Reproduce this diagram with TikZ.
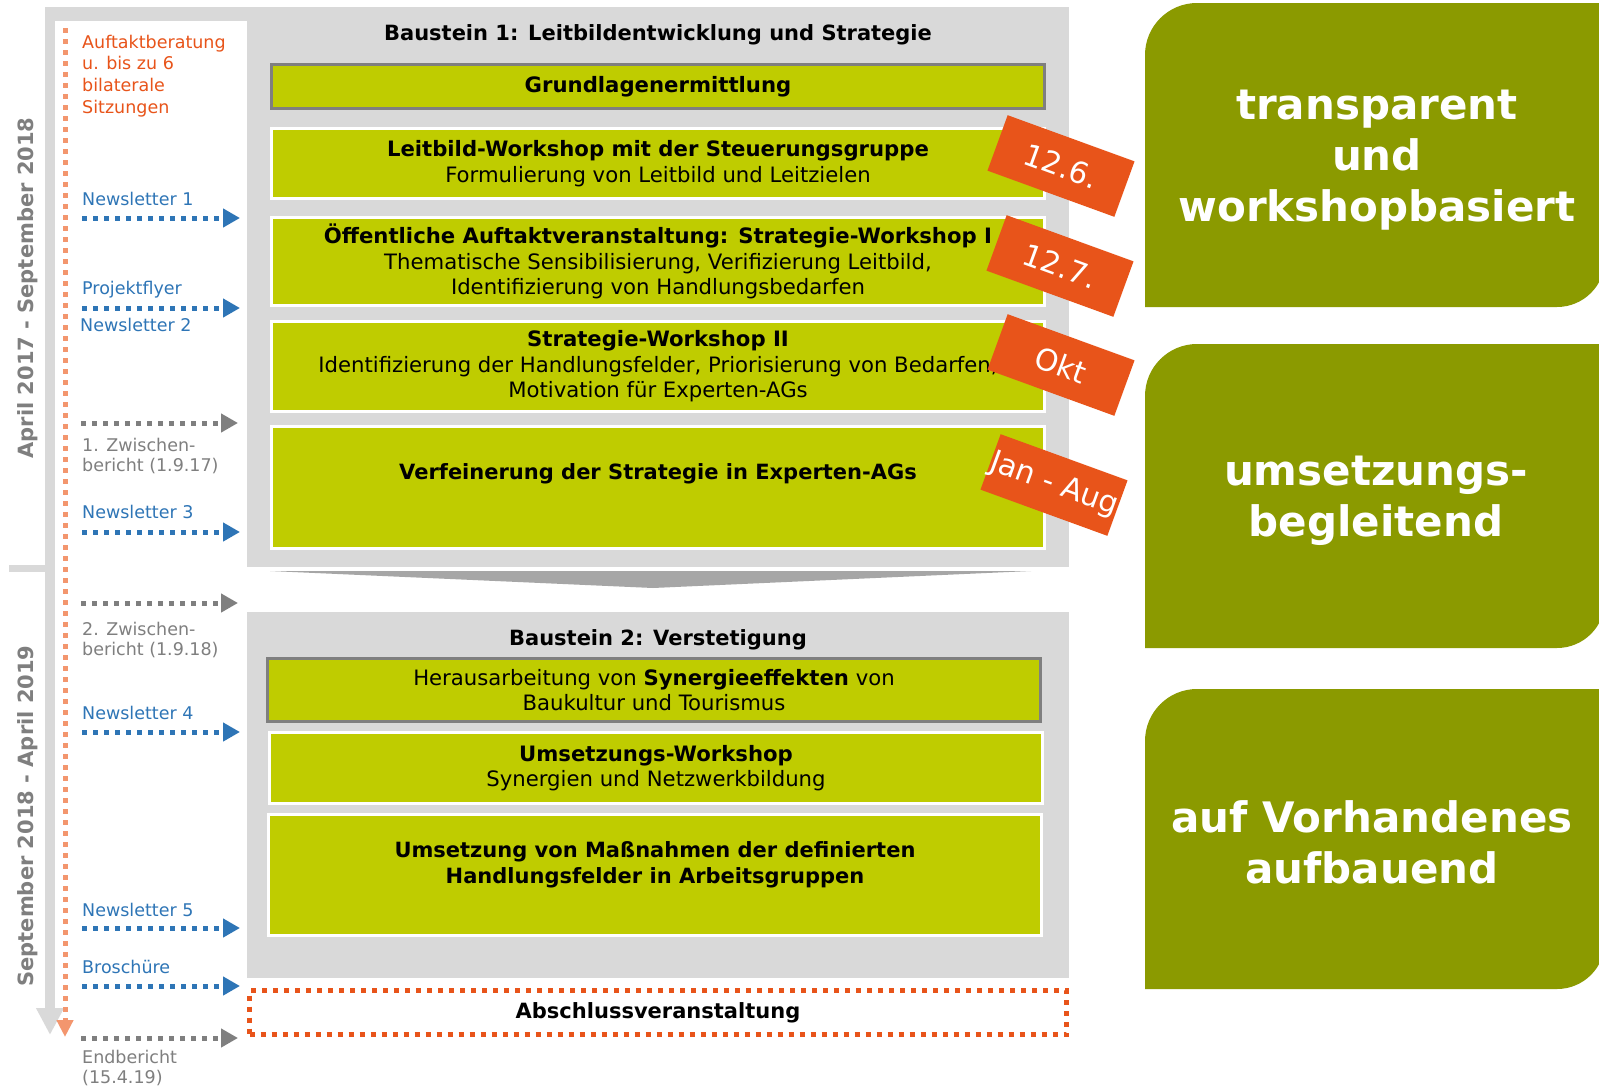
\documentclass[tikz,border=0pt]{standalone}
\usepackage{fontspec}
\setmainfont{DejaVu Sans}
\usetikzlibrary{arrows.meta}

\definecolor{bsgreen}{RGB}{191,204,0}
\definecolor{pgreen}{RGB}{139,154,0}
\definecolor{tagred}{RGB}{232,84,26}
\definecolor{nlblue}{RGB}{46,117,182}
\definecolor{fgray}{RGB}{217,217,217}
\definecolor{dgray}{RGB}{127,127,127}
\definecolor{cgray}{RGB}{166,166,166}
\definecolor{salmon}{RGB}{243,150,110}

\begin{document}
\begin{tikzpicture}[x=1pt, y=-1pt,
  gbox/.style={fill=bsgreen, draw=white, line width=3pt, minimum width=773pt, inner sep=0pt, align=center, font=\fontsize{21.2}{25.5}\selectfont},
  gboxd/.style={gbox, draw=dgray},
  btitle/.style={font=\fontsize{21}{25.5}\selectfont\bfseries},
  tag/.style={fill=tagred, text=white, rotate=-20, minimum width=135pt, minimum height=59pt, inner sep=0pt, font=\fontsize{30}{30}\selectfont},
  ptext/.style={text=white, align=center, font=\fontsize{42}{51}\selectfont\bfseries},
  dotline/.style={line width=5pt, dash pattern=on 5pt off 6pt},
  nlarrow/.style={dotline, nlblue, -{Triangle[length=17pt,width=18pt]}},
  rparrow/.style={dotline, dgray, -{Triangle[length=17pt,width=18pt]}},
  lbl/.style={anchor=west, align=left, inner sep=0pt, font=\fontsize{17.5}{21.7}\selectfont},
  period/.style={rotate=90, text=dgray, font=\fontsize{21}{21}\selectfont\bfseries}
]
\fill[white] (0,0) rectangle (1599,1090);
\useasboundingbox (0,0) rectangle (1599,1090);

% Frame and timeline
\fill[fgray] (45,7) rectangle (1069,21);
\fill[fgray] (247,7) rectangle (1069,567);
\fill[fgray] (9,565) rectangle (45,572);
\fill[fgray] (247,612) rectangle (1069,978);
\draw[fgray, line width=10pt, -{Triangle[length=27pt,width=26pt]}] (50,7) -- (50,1035);
\fill[cgray] (270,571) -- (1031,571) -- (653,588) -- cycle;

% Periods
\node[period] (per1) at (28,288) {April 2017 - September 2018};
\node[period] (per2) at (28,816) {September 2018 - April 2019};

% Consulting line
\coordinate (ctop) at (65,28);
\coordinate (cbot) at (65,1037);
\draw[salmon, dotline, -{Triangle[length=17pt,width=16pt]}] (ctop) -- (cbot);
\node[lbl, text=tagred] (auft) at (82,76) {Auftaktberatung\\u. bis zu 6\\bilaterale\\Sitzungen};

% Baustein 1
\node[btitle] (b1) at (658,35) {Baustein 1: Leitbildentwicklung und Strategie};
\node[gboxd, minimum height=44pt] (grund) at (658,86.5) {\bfseries Grundlagenermittlung};
\node[gbox, minimum height=70pt] (leit) at (658,163.5) {\textbf{Leitbild-Workshop mit der Steuerungsgruppe}\\Formulierung von Leitbild und Leitzielen};
\node[gbox, minimum height=88pt] (oeff) at (658,261.5) {\textbf{Öffentliche Auftaktveranstaltung: Strategie-Workshop I}\\Thematische Sensibilisierung, Verifizierung Leitbild,\\Identifizierung von Handlungsbedarfen};
\node[gbox, minimum height=90pt] (sw2) at (658,366.5) {\textbf{Strategie-Workshop II}\\Identifizierung der Handlungsfelder, Priorisierung von Bedarfen,\\Motivation für Experten-AGs};
\node[gbox, minimum height=122pt] (verf) at (658,487.5) {};
\node[btitle] (verft) at (658,474) {Verfeinerung der Strategie in Experten-AGs};

% Dates
\node[tag] (t1) at (1061,166) {12.6.};
\node[tag] (t2) at (1060,266) {12.7.};
\node[tag] (t3) at (1061,365) {Okt};
\node[tag] (t4) at (1054,485) {Jan - Aug};

% Baustein 2
\node[btitle] (b2) at (658,640) {Baustein 2: Verstetigung};
\node[gboxd, minimum height=63pt] (herau) at (654,690) {Herausarbeitung von \textbf{Synergieeffekten} von\\Baukultur und Tourismus};
\node[gbox, minimum height=71pt] (umsw) at (656,768) {\textbf{Umsetzungs-Workshop}\\Synergien und Netzwerkbildung};
\node[gbox, minimum height=121pt] (umsm) at (655,875) {};
\node[btitle, align=center] (umsmt) at (655,865) {Umsetzung von Maßnahmen der definierten\\Handlungsfelder in Arbeitsgruppen};

\node[draw=tagred, dotline, minimum width=817pt, minimum height=44pt, inner sep=0pt, btitle] (absch) at (658,1012.5) {Abschlussveranstaltung};

% Products
\foreach \y/\n in {218/nl1, 308/nl2, 532/nl3, 732/nl4, 928/nl5, 986/bro} {
  \coordinate (s\n) at (82,\y);
  \coordinate (e\n) at (240,\y);
  \draw[nlarrow] (s\n) -- (e\n);
}
\foreach \y/\n in {423/zb1, 603/zb2, 1038/end} {
  \coordinate (s\n) at (81,\y);
  \coordinate (e\n) at (238,\y);
  \draw[rparrow] (s\n) -- (e\n);
}
\node[lbl, text=nlblue] (nl1) at (82,199) {Newsletter 1};
\node[lbl, text=nlblue] (fly) at (82,290) {Projektflyer};
\node[lbl, text=nlblue] (nl2) at (80,325) {Newsletter 2};
\node[lbl, text=nlblue] (nl3) at (82,512) {Newsletter 3};
\node[lbl, text=nlblue] (nl4) at (82,713) {Newsletter 4};
\node[lbl, text=nlblue] (nl5) at (82,910) {Newsletter 5};
\node[lbl, text=nlblue] (bro) at (82,967) {Broschüre};
\node[lbl, text=dgray, font=\fontsize{17.5}{20.5}\selectfont] (zb1) at (82,456) {1. Zwischen-\\bericht (1.9.17)};
\node[lbl, text=dgray, font=\fontsize{17.5}{20.5}\selectfont] (zb2) at (82,640) {2. Zwischen-\\bericht (1.9.18)};
\node[lbl, text=dgray, font=\fontsize{17.5}{20.5}\selectfont] (end) at (82,1068) {Endbericht\\(15.4.19)};

% Principles
\foreach \t/\b in {3/307, 344/648, 689/989}
  \fill[pgreen] (1145,\b) -- (1145,\t+52) arc[start angle=180, end angle=270, radius=52]
    -- (1605,\t) -- (1605,\b-48) arc[start angle=0, end angle=90, radius=48] -- cycle;
\node[ptext] (p1) at (1377,160) {transparent\\und\\workshopbasiert};
\node[ptext] (p2) at (1376,501) {umsetzungs-\\begleitend};
\node[ptext] (p3) at (1372,842) {auf Vorhandenes\\aufbauend};
\end{tikzpicture}
\end{document}
